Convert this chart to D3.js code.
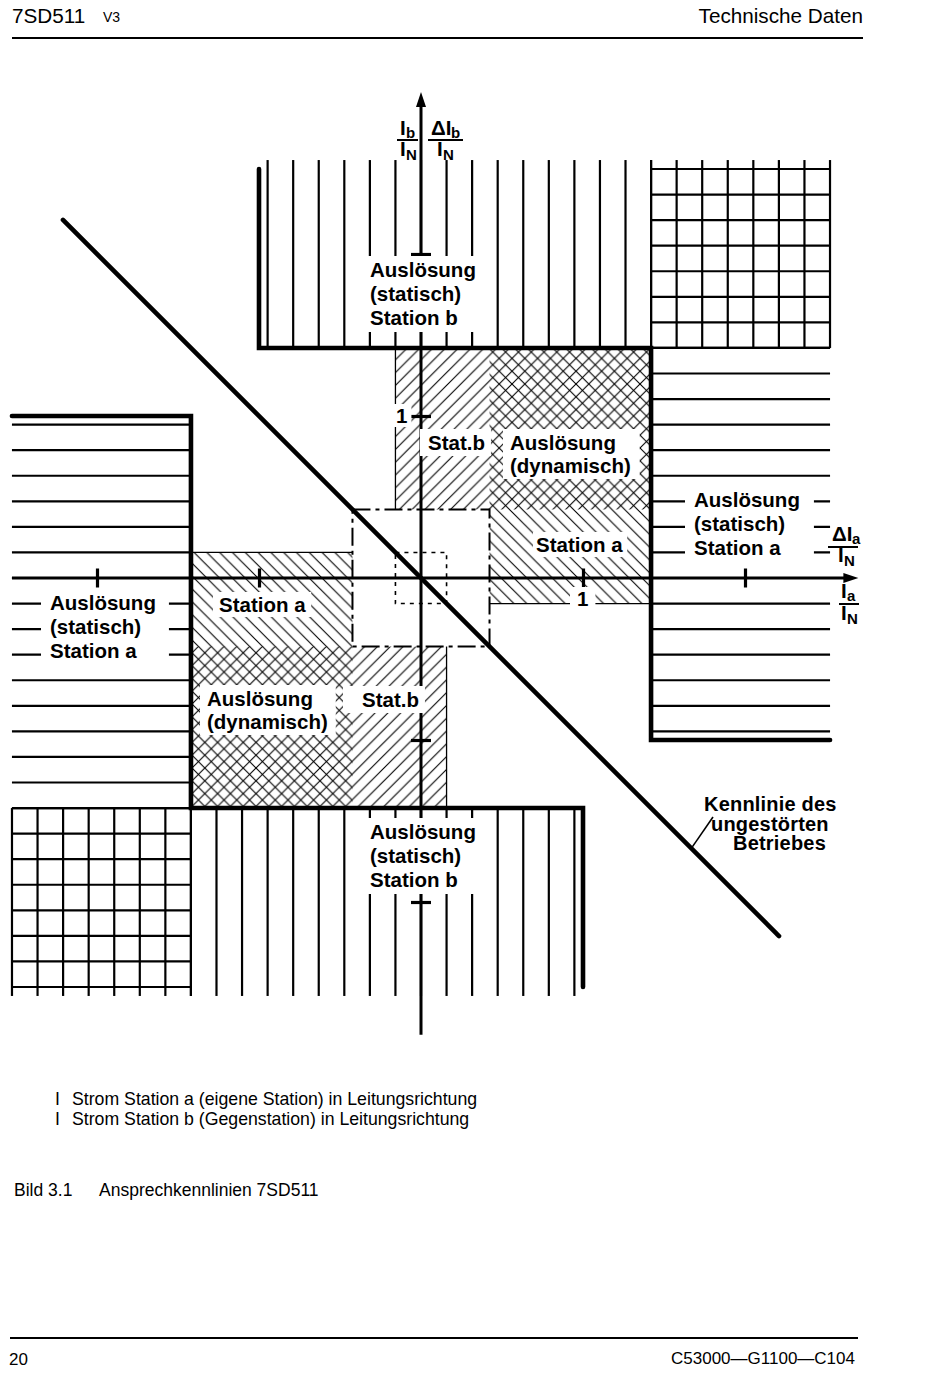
<!DOCTYPE html>
<html><head><meta charset="utf-8">
<script src="https://cdn.jsdelivr.net/npm/d3@7"></script>
<style>
body{margin:0;background:#fff}
svg{display:block}
text{font-family:"Liberation Sans",Arial,Helvetica,sans-serif;fill:#000}
.b{font-weight:bold;font-size:20.5px}
.k{font-weight:bold;font-size:20px;letter-spacing:0.2px}
.s{font-weight:bold;font-size:15px}
.r{font-size:17.7px}
</style></head><body>
<svg id="c" width="950" height="1388"></svg>
<script>
// ---------------- data (axis units, 1 = I/IN) ----------------
const axisTicks = [-2, -1, 1, 2];
const tickLabels = ["1"];
const innerLimit = 1;        // static threshold
const boundary = 1.42;       // outer boundary of dynamic zones
const extent = 2.525;        // drawn extent of static zones
const lineStep = 0.1578;     // pitch of zone lines
const dynBox = 0.423;        // dash-dot square half width
const dotBox = 0.1578;       // dotted square half width
const kennlinieX = [-2.21, 2.21];
const axisX = [-2.525, 2.70];
const axisY = [-2.82, 3.0];

const staticZones = [
  {x: [-innerLimit, boundary], y: [boundary, extent], kind: "v"},
  {x: [-boundary, innerLimit], y: [-extent, -boundary], kind: "v"},
  {x: [boundary, extent], y: [-innerLimit, boundary], kind: "h"},
  {x: [-extent, -boundary], y: [-boundary, innerLimit], kind: "h"},
  {x: [boundary, extent], y: [boundary, extent], kind: "g"},
  {x: [-extent, -boundary], y: [-extent, -boundary], kind: "g"}
];
const dynZones = [
  {x: [-dotBox, boundary], y: [dynBox, boundary], pat: "fwd"},
  {x: [dynBox, boundary], y: [-dotBox, boundary], pat: "back"},
  {x: [-boundary, -dynBox], y: [-boundary, dotBox], pat: "back"},
  {x: [-boundary, dotBox], y: [-boundary, -dynBox], pat: "fwd"}
];
const dynEdges = [
  [[-dotBox, dynBox], [-dotBox, boundary]],
  [[dynBox, -dotBox], [boundary, -dotBox]],
  [[-boundary, dotBox], [-dynBox, dotBox]],
  [[dotBox, -dynBox], [dotBox, -boundary]]
];
const boundaryPaths = [
  [[-innerLimit, extent], [-innerLimit, boundary], [boundary, boundary], [boundary, -innerLimit], [extent, -innerLimit]],
  [[-extent, innerLimit], [-boundary, innerLimit], [-boundary, -boundary], [innerLimit, -boundary], [innerLimit, -extent]]
];
const staticB = ["Auslösung", "(statisch)", "Station b"];
const staticA = ["Auslösung", "(statisch)", "Station a"];
const dynText = ["Auslösung", "(dynamisch)"];
const kennText = ["Kennlinie des", "ungestörten", "Betriebes"];
const footnotes = ["Strom Station a (eigene Station) in Leitungsrichtung",
                   "Strom Station b (Gegenstation) in Leitungsrichtung"];

// ---------------- drawing ----------------
const svg = d3.select("#c");
const xs = d3.scaleLinear().domain([-2, 2]).range([97, 745]);
const ys = d3.scaleLinear().domain([-2, 2]).range([902, 254]);
const over = 0.055;

const defs = svg.append("defs");
const hs = 12.8;
function pattern(id, d) {
  defs.append("pattern").attr("id", id).attr("patternUnits", "userSpaceOnUse")
    .attr("width", hs).attr("height", hs)
    .append("path").attr("d", d).attr("stroke", "#000").attr("stroke-width", 1.1).attr("fill", "none");
}
pattern("fwd", `M0,${hs}L${hs},0M${-hs/4},${hs/4}L${hs/4},${-hs/4}M${3*hs/4},${5*hs/4}L${5*hs/4},${3*hs/4}`);
pattern("back", `M0,0L${hs},${hs}M${-hs/4},${3*hs/4}L${hs/4},${5*hs/4}M${3*hs/4},${-hs/4}L${5*hs/4},${hs/4}`);

function ks(a, b) {
  const lo = Math.ceil(Math.min(a, b) / lineStep - 0.05), hi = Math.floor(Math.max(a, b) / lineStep + 0.05);
  return d3.range(lo, hi + 1);
}
const gZones = svg.append("g").attr("stroke", "#000").attr("stroke-width", 2.2);
staticZones.forEach(z => {
  const sgn = z.y[0] > 0 ? 1 : -1;
  if (z.kind === "v" || z.kind === "g") {
    const y0 = sgn > 0 ? z.y[0] : z.y[1];
    const y1 = sgn > 0 ? z.y[1] + over : z.y[0] - over;
    ks(z.x[0], z.x[1]).forEach(k => {
      gZones.append("line").attr("x1", xs(k * lineStep)).attr("x2", xs(k * lineStep))
        .attr("y1", ys(y0)).attr("y2", ys(y1));
    });
  }
  if (z.kind === "h" || z.kind === "g") {
    ks(z.y[0], z.y[1]).forEach(k => {
      gZones.append("line").attr("x1", xs(z.x[0])).attr("x2", xs(z.x[1]))
        .attr("y1", ys(k * lineStep)).attr("y2", ys(k * lineStep));
    });
  }
});

// dynamic hatched zones
svg.append("g").selectAll("rect").data(dynZones).join("rect")
  .attr("x", d => xs(d.x[0])).attr("y", d => ys(d.y[1]))
  .attr("width", d => xs(d.x[1]) - xs(d.x[0])).attr("height", d => ys(d.y[0]) - ys(d.y[1]))
  .attr("fill", d => `url(#${d.pat})`);
svg.append("g").selectAll("line").data(dynEdges).join("line")
  .attr("x1", d => xs(d[0][0])).attr("y1", d => ys(d[0][1]))
  .attr("x2", d => xs(d[1][0])).attr("y2", d => ys(d[1][1]))
  .attr("stroke", "#000").attr("stroke-width", 1.3);

// dash-dot and dotted squares
svg.append("rect").attr("x", xs(-dynBox)).attr("y", ys(dynBox))
  .attr("width", xs(dynBox) - xs(-dynBox)).attr("height", ys(-dynBox) - ys(dynBox))
  .attr("fill", "none").attr("stroke", "#000").attr("stroke-width", 2)
  .attr("stroke-dasharray", "18,5,4,5");
svg.append("rect").attr("x", xs(-dotBox)).attr("y", ys(dotBox))
  .attr("width", xs(dotBox) - xs(-dotBox)).attr("height", ys(-dotBox) - ys(dotBox))
  .attr("fill", "none").attr("stroke", "#000").attr("stroke-width", 1.6)
  .attr("stroke-dasharray", "4,5");

// thick boundaries
const line = d3.line().x(d => xs(d[0])).y(d => ys(d[1]));
svg.append("g").selectAll("path").data(boundaryPaths).join("path")
  .attr("d", line).attr("fill", "none").attr("stroke", "#000")
  .attr("stroke-width", 4.6).attr("stroke-linejoin", "miter").attr("stroke-linecap", "round");

// axes
svg.append("line").attr("x1", xs(axisX[0])).attr("x2", xs(axisX[1]) - 8)
  .attr("y1", ys(0)).attr("y2", ys(0)).attr("stroke", "#000").attr("stroke-width", 3);
svg.append("path").attr("d", `M${xs(axisX[1])},${ys(0)}l-15,-5l0,10z`).attr("fill", "#000");
svg.append("line").attr("x1", xs(0)).attr("x2", xs(0))
  .attr("y1", ys(axisY[0])).attr("y2", ys(axisY[1]) + 8).attr("stroke", "#000").attr("stroke-width", 3);
svg.append("path").attr("d", `M${xs(0)},${ys(axisY[1])}l-5,15l10,0z`).attr("fill", "#000");

const ax = svg.append("g").attr("transform", `translate(0,${ys(0) - 9.5})`)
  .call(d3.axisBottom(xs).tickValues(axisTicks).tickSize(19).tickFormat(""));
const ay = svg.append("g").attr("transform", `translate(${xs(0) - 10},0)`)
  .call(d3.axisRight(ys).tickValues(axisTicks).tickSize(20).tickFormat(""));
[ax, ay].forEach(a => {
  a.select(".domain").remove();
  a.selectAll(".tick line").attr("stroke", "#000").attr("stroke-width", 3.2);
});

// Kennlinie
svg.append("path").attr("d", line(kennlinieX.map(v => [v, -v])))
  .attr("fill", "none").attr("stroke", "#000").attr("stroke-width", 4.6).attr("stroke-linecap", "round");
svg.append("line").attr("x1", xs(1.675)).attr("y1", ys(-1.66)).attr("x2", 713).attr("y2", 817)
  .attr("stroke", "#000").attr("stroke-width", 1.6);

// labels with white background
function label(lines, x, y, lh, pad, cls) {
  const g = svg.append("g");
  lines.forEach((t, i) => g.append("text").attr("class", cls || "b")
    .attr("x", Array.isArray(x) ? x[i] : x).attr("y", y + i * lh).text(t));
  if (pad) {
    const bb = g.node().getBBox();
    g.insert("rect", "text").attr("x", bb.x - pad[0]).attr("y", bb.y - pad[2])
      .attr("width", bb.width + pad[0] + pad[1]).attr("height", bb.height + pad[2] + pad[3])
      .attr("fill", "#fff");
  }
  return g;
}
label(staticB, 370, 277, 24, [5, 5, 2, 3]);
label(staticB, 370, 839, 24, [5, 5, 2, 3]);
label(staticA, 50, 610, 24, [9, 13, 2, 3]);
label(staticA, 694, 507, 24, [9, 14, 2, 3]);
label(["Stat.b"], 428, 450, 23, [8, 6, 2, 2]);
label(dynText, 510, 450, 23, [7, 9, 2, 2]);
label(["Station a"], 536, 552, 23, [3, 4, 1, 1]);
label(["Station a"], 219, 612, 23, [6, 5, 1, 1]);
label(dynText, 207, 706, 23, [7, 8, 2, 2]);
label(["Stat.b"], 362, 707, 23, [19, 6, 2, 2]);
label(kennText, [704, 711, 733], 811, 19.5, null, "k");

// tick labels "1"
label([tickLabels[0]], xs(1) - 6, ys(0) + 28, 0, [7, 7, 0, 0]);
label([tickLabels[0]], xs(0) - 25, ys(1) + 7, 0, [3, 4, 0, 0]);

// axis variable labels (fractions)
function frac(xNum, subNum, delta, xDen, yNum, barX0, barX1, yBar, yDen, subChar) {
  const g = svg.append("g");
  g.append("text").attr("class", "b").attr("x", xNum).attr("y", yNum).text((delta ? "Δ" : "") + "I");
  g.append("text").attr("class", "s").attr("x", subNum).attr("y", yNum + 3).text(subChar);
  g.append("line").attr("x1", barX0).attr("x2", barX1).attr("y1", yBar).attr("y2", yBar)
    .attr("stroke", "#000").attr("stroke-width", 2);
  g.append("text").attr("class", "b").attr("x", xDen).attr("y", yDen).text("I");
  g.append("text").attr("class", "s").attr("x", xDen + 6).attr("y", yDen + 4).text("N");
}
frac(400, 406, false, 400, 135, 397, 418, 140, 156, "b");
frac(431, 451, true, 437, 135, 428, 463, 140, 156, "b");
frac(832, 852, true, 838, 541, 828, 858, 547, 562, "a");
frac(841, 847, false, 841, 598, 839, 859, 604, 620, "a");

// header / footer
svg.append("text").attr("x", 12).attr("y", 23).style("font-size", "20.7px").text("7SD511");
svg.append("text").attr("x", 103).attr("y", 22).style("font-size", "14px").text("V3");
svg.append("text").attr("x", 863).attr("y", 23).attr("text-anchor", "end").style("font-size", "20.7px").text("Technische Daten");
svg.append("line").attr("x1", 12).attr("x2", 863).attr("y1", 38).attr("y2", 38).attr("stroke", "#000").attr("stroke-width", 2);

footnotes.forEach((t, i) => {
  svg.append("text").attr("class", "r").attr("x", 55).attr("y", 1105 + i * 20).text("I");
  svg.append("text").attr("class", "r").attr("x", 72).attr("y", 1105 + i * 20).text(t);
});
svg.append("text").attr("x", 14).attr("y", 1196).style("font-size", "17.5px").text("Bild 3.1");
svg.append("text").attr("x", 99).attr("y", 1196).style("font-size", "17.5px").text("Ansprechkennlinien 7SD511");

svg.append("line").attr("x1", 10).attr("x2", 858).attr("y1", 1338).attr("y2", 1338).attr("stroke", "#000").attr("stroke-width", 2);
svg.append("text").attr("x", 9).attr("y", 1365).style("font-size", "17px").text("20");
svg.append("text").attr("x", 855).attr("y", 1364).attr("text-anchor", "end").style("font-size", "17px").text("C53000—G1100—C104");
</script>
</body></html>
